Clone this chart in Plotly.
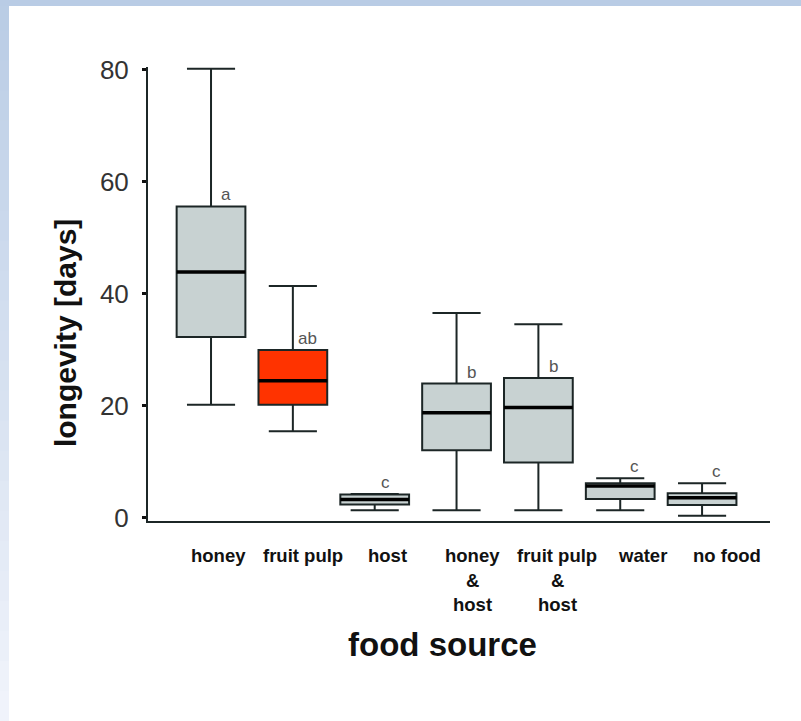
import plotly.graph_objects as go

# ---- data ----
categories = ["honey", "fruit pulp", "host", "honey\n&\nhost", "fruit pulp\n&\nhost", "water", "no food"]
lower_whisker = [20.2, 15.5, 1.4, 1.4, 1.4, 1.4, 0.4]
q1_values = [32.3, 20.2, 2.4, 12.1, 9.9, 3.4, 2.3]
median_values = [43.9, 24.5, 3.3, 18.8, 19.7, 5.7, 3.6]
q3_values = [55.6, 30.0, 4.2, 24.0, 25.0, 6.2, 4.4]
upper_whisker = [80.2, 41.4, 4.3, 36.6, 34.6, 7.1, 6.2]
group_letters = ["a", "ab", "c", "b", "b", "c", "c"]
y_ticks = [0, 20, 40, 60, 80]

GREY = "#c8d2d2"
RED = "#ff3300"
fills = [GREY, RED, GREY, GREY, GREY, GREY, GREY]
LINE = "#1c2626"
BOX_W = 0.84

positions = list(range(len(categories)))

fig = go.Figure()

for i, cat in enumerate(categories):
    fig.add_trace(go.Box(
        x=[positions[i]],
        q1=[q1_values[i]], median=[median_values[i]], q3=[q3_values[i]],
        lowerfence=[lower_whisker[i]], upperfence=[upper_whisker[i]],
        fillcolor=fills[i],
        line=dict(color=LINE, width=2),
        width=BOX_W,
        whiskerwidth=0.7,
        boxpoints=False,
        hoverinfo="skip",
        showlegend=False,
    ))

# thick median bars
mx, my = [], []
for i in positions:
    mx += [i - BOX_W / 2, i + BOX_W / 2, None]
    my += [median_values[i], median_values[i], None]
fig.add_trace(go.Scatter(x=mx, y=my, mode="lines", line=dict(color="black", width=3.5),
                         hoverinfo="skip", showlegend=False))

# small square category tick marks below the axis
fig.add_trace(go.Scatter(x=positions, y=[-2.0] * len(positions), mode="markers",
                         marker=dict(symbol="square", size=4, color="#111"),
                         cliponaxis=False, hoverinfo="skip", showlegend=False))

annotations = []
# significance letters
for i in positions:
    close = upper_whisker[i] - q3_values[i] <= 5
    base = upper_whisker[i] if close else q3_values[i]
    annotations.append(dict(x=i + (0.13 if close and i < 3 else 0.18), y=base, xref="x", yref="y",
                            text=group_letters[i],
                            showarrow=False, yanchor="bottom", yshift=0,
                            font=dict(family="Liberation Sans, Arial", size=17, color="#555555")))

# category labels (one annotation per line)
for i, cat in enumerate(categories):
    for k, line in enumerate(cat.split("\n")):
        annotations.append(dict(x=i, y=-0.075 - 0.055 * k, xref="x", yref="paper",
                                text="<b>%s</b>" % line,
                                showarrow=False, xanchor="center", yanchor="middle",
                                xshift=7 + 3 * i,
                                font=dict(family="Liberation Sans, Arial", size=18.5, color="#111111")))

# axis titles
annotations.append(dict(x=0.4727, y=-0.273, xref="paper", yref="paper", text="<b>food source</b>",
                        showarrow=False, xanchor="center", yanchor="middle",
                        font=dict(family="Liberation Sans, Arial", size=33, color="#111111")))
annotations.append(dict(x=-0.1334, y=0.414, xref="paper", yref="paper", text="<b>longevity [days]</b>",
                        showarrow=False, xanchor="center", yanchor="middle", textangle=-90,
                        font=dict(family="Liberation Sans, Arial", size=30, color="#111111")))

# decorative light-blue page border (top strip + fading left strip)
shapes = []
W, H = 801, 721
L, R, T, B = 148, 31, 67, 200
pw, ph = W - L - R, H - T - B


def px_to_paper_x(px):
    return (px - L) / pw


def px_to_paper_y(py):
    return (H - B - py) / ph


def lerp_col(c1, c2, t):
    a = [int(c1[j:j + 2], 16) for j in (1, 3, 5)]
    b = [int(c2[j:j + 2], 16) for j in (1, 3, 5)]
    return "#%02x%02x%02x" % tuple(round(a[j] + (b[j] - a[j]) * t) for j in range(3))


nb = 24
for b in range(nb):
    y0 = H * b / nb
    y1 = H * (b + 1) / nb + 1
    col = lerp_col("#b9cce5", "#f1f4fb", (b + 0.5) / nb)
    shapes.append(dict(type="rect", xref="paper", yref="paper", layer="below",
                       x0=px_to_paper_x(0), x1=px_to_paper_x(9),
                       y0=px_to_paper_y(y1), y1=px_to_paper_y(y0),
                       fillcolor=col, line=dict(width=0)))
shapes.append(dict(type="rect", xref="paper", yref="paper", layer="below",
                   x0=px_to_paper_x(0), x1=px_to_paper_x(W),
                   y0=px_to_paper_y(6), y1=px_to_paper_y(0),
                   fillcolor="#b9cce5", line=dict(width=0)))

fig.update_layout(
    width=W, height=H,
    margin=dict(l=L, r=R, t=T, b=B, pad=0),
    paper_bgcolor="white", plot_bgcolor="white",
    showlegend=False,
    annotations=annotations,
    shapes=shapes,
    xaxis=dict(range=[-0.77, 6.83], showgrid=False, zeroline=False, showticklabels=False,
               ticks="", showline=True, linecolor=LINE, linewidth=2, fixedrange=True),
    yaxis=dict(range=[-0.54, 80.5], tickvals=y_ticks, ticktext=[str(v) for v in y_ticks],
               showgrid=False, zeroline=False, showline=True, linecolor=LINE, linewidth=2,
               ticks="outside", ticklen=4, tickwidth=3, tickcolor="#111",
               ticklabelstandoff=8,
               tickfont=dict(family="Liberation Sans, Arial", size=26, color="#333333"),
               fixedrange=True),
)

fig.write_html("out.html", config={"displayModeBar": False},
               post_script="document.body.style.margin='0';")
